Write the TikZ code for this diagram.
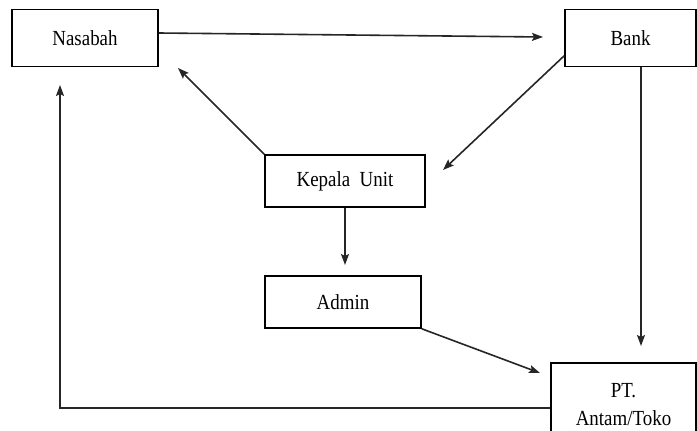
\documentclass[tikz,border=0pt]{standalone}
\usepackage{fontspec}
\setmainfont{Liberation Serif}[FakeStretch=0.88]
\usetikzlibrary{arrows.meta}
\begin{document}
\begin{tikzpicture}[x=1pt,y=-1pt,
  box/.style={draw=black, line width=1.6pt, fill=white, inner sep=0pt, font=\fontsize{21.5}{28}\selectfont},
  arr/.style={line width=1.6pt, draw=black!85, -{Stealth[length=11pt,width=8pt,inset=2pt]}}]
\clip (0,0) rectangle (697,431);
\fill[white] (0,0) rectangle (697,431);
\node[box, minimum width=146pt, minimum height=57pt] (nas) at (85,38) {Nasabah};
\node[box, minimum width=131pt, minimum height=57pt] (bank) at (630.5,38) {Bank};
\node[box, minimum width=160pt, minimum height=52pt] (kep) at (345,181) {Kepala\ \ Unit};
\node[box, minimum width=156pt, minimum height=52pt] (adm) at (343,302) {Admin};
\node[box, minimum width=145pt, minimum height=84pt, align=center] (pt) at (623.5,405) {PT.\\Antam/Toko};
\coordinate (tBank) at (543,37);
\coordinate (tNasA) at (178,68);
\coordinate (tKep) at (443,170);
\coordinate (tAdm) at (345,265);
\coordinate (tPtA) at (540,373);
\coordinate (bankS) at (641,67);
\coordinate (tPtB) at (641,346);
\coordinate (tNasB) at (60,85);
\draw[arr] ([yshift=5pt]nas.east) -- (tBank);
\draw[arr] (kep.north west) -- (tNasA);
\draw[arr] ([yshift=11.5pt]bank.south west) -- (tKep);
\draw[arr] (kep.south) -- (tAdm);
\draw[arr] (adm.south east) -- (tPtA);
\draw[arr] (bankS) -- (tPtB);
\draw[arr] ([yshift=-3pt]pt.west) -| (tNasB);
\end{tikzpicture}
\end{document}
